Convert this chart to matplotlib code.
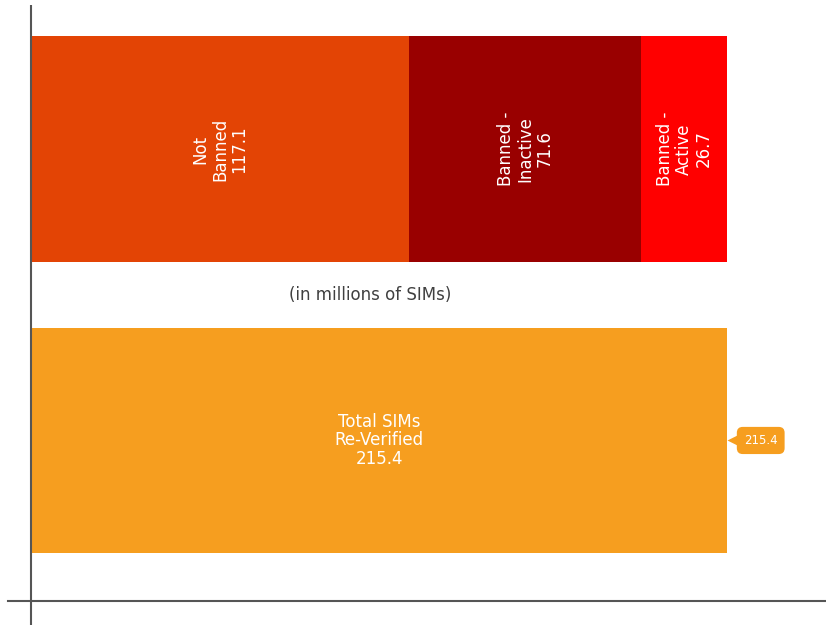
import matplotlib.pyplot as plt

# data (in millions of SIMs)
segments = ["Not\nBanned", "Banned -\nInactive", "Banned -\nActive"]
segment_values = [117.1, 71.6, 26.7]
segment_colors = ["#E34405", "#990000", "#FF0000"]
total_label = "Total SIMs\nRe-Verified"
total_value = 215.4
total_color = "#F69E1F"

fig = plt.figure(figsize=(8.26, 6.25), dpi=100)
ax = fig.add_axes([0, 0, 1, 1])

# top stacked bar
left = 0
for name, val, col in zip(segments, segment_values, segment_colors):
    ax.barh(0, val, left=left, height=0.775, color=col)
    ax.text(left + val / 2, 0, name + "\n" + str(val), rotation=90,
            ha="center", va="center", color="white", fontsize=12,
            linespacing=1.1)
    left += val

# total bar
ax.barh(1, total_value, height=0.775, color=total_color)
ax.text(total_value / 2, 1, total_label + "\n" + str(total_value),
        ha="center", va="center", color="white", fontsize=12, linespacing=1.05)

# callout for the total
ax.text(total_value + 10.4, 1, str(total_value), ha="center", va="center",
        color="white", fontsize=8.5,
        bbox=dict(boxstyle="round,pad=0.6,rounding_size=0.5", fc=total_color, ec="none"))
ax.plot(total_value + 1.9, 1, marker="<", ms=8, color=total_color, mec="none")

ax.text(104.9, 0.5, "(in millions of SIMs)", ha="center", va="center",
        color="#404040", fontsize=12)

# axis lines
ax.plot([0, 0], [-0.494, 1.7], color="#555555", lw=1.5, solid_capstyle="butt")
ax.plot([-7.1, 250], [1.551, 1.551], color="#555555", lw=1.5)

ax.set_xlim(-9.59, 246.0)
ax.set_ylim(1.633, -0.511)
ax.axis("off")

plt.savefig("out.png", dpi=100)
